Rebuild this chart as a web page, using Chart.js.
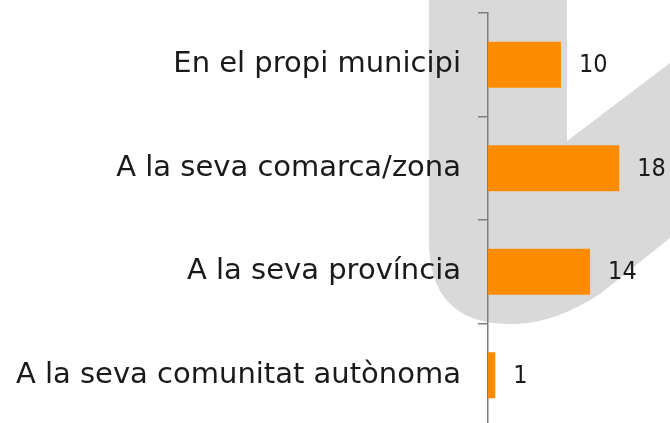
<!DOCTYPE html>
<html>
<head>
<meta charset="utf-8">
<script src="https://cdn.jsdelivr.net/npm/chart.js@4/dist/chart.umd.min.js"></script>
<style>
  html, body { margin: 0; padding: 0; background: #ffffff; overflow: hidden; width: 670px; height: 423px; }
  #wrap { position: relative; width: 670px; height: 427px; }
</style>
</head>
<body>
<div id="wrap"><canvas id="c"></canvas></div>
<script>
const categories = [
  "En el propi municipi",
  "A la seva comarca/zona",
  "A la seva província",
  "A la seva comunitat autònoma"
];
const values = [10, 18, 14, 1];

const FONT = "'DejaVu Sans', sans-serif";
const NUM_FONT = "'DejaVu Sans Condensed', 'DejaVu Sans', sans-serif";

// decorative grey watermark behind the chart
const watermark = {
  id: 'watermark',
  beforeDraw(chart) {
    const ctx = chart.ctx;
    ctx.save();
    ctx.fillStyle = '#d9d9d9';
    ctx.beginPath();
    ctx.moveTo(429, 0);
    ctx.lineTo(429, 240);
    ctx.bezierCurveTo(429, 305, 465, 325, 515, 324);
    ctx.bezierCurveTo(545, 323, 570, 313, 600, 294);
    ctx.lineTo(670, 238);
    ctx.lineTo(670, 63);
    ctx.lineTo(567, 141);
    ctx.lineTo(567, 0);
    ctx.closePath();
    ctx.fill();
    ctx.restore();
  }
};

const valueLabels = {
  id: 'valueLabels',
  afterDatasetsDraw(chart) {
    const ctx = chart.ctx;
    const meta = chart.getDatasetMeta(0);
    ctx.save();
    ctx.font = '25px ' + NUM_FONT;
    ctx.fillStyle = '#1a1a1a';
    ctx.textAlign = 'left';
    ctx.textBaseline = 'middle';
    meta.data.forEach((bar, i) => {
      ctx.fillText(String(values[i]), bar.x + 18, bar.y + 1);
    });
    ctx.restore();
  }
};

new Chart(document.getElementById('c'), {
  type: 'bar',
  data: {
    labels: categories,
    datasets: [{
      data: values,
      backgroundColor: '#ff8c00',
      borderWidth: 0,
      barPercentage: 0.445,
      categoryPercentage: 1.0
    }]
  },
  options: {
    indexAxis: 'y',
    responsive: true,
    maintainAspectRatio: false,
    animation: false,
    layout: { padding: { top: 13, bottom: 0, left: 0, right: 7 } },
    plugins: {
      legend: { display: false },
      tooltip: { enabled: false },
      title: { display: false }
    },
    scales: {
      x: {
        display: false,
        min: 0,
        max: 24
      },
      y: {
        afterFit(scale) {
          scale.width = 488;
          scale.paddingTop = 0;
          scale.paddingBottom = 0;
        },
        border: { display: true, color: '#7f7f7f', width: 1.5 },
        grid: {
          display: true,
          drawOnChartArea: false,
          drawTicks: true,
          tickLength: 10,
          color: '#7f7f7f',
          lineWidth: 1.5,
          offset: true
        },
        ticks: {
          color: '#1a1a1a',
          padding: 17,
          font: { family: FONT, size: 29 }
        }
      }
    }
  },
  plugins: [watermark, valueLabels]
});
</script>
</body>
</html>
